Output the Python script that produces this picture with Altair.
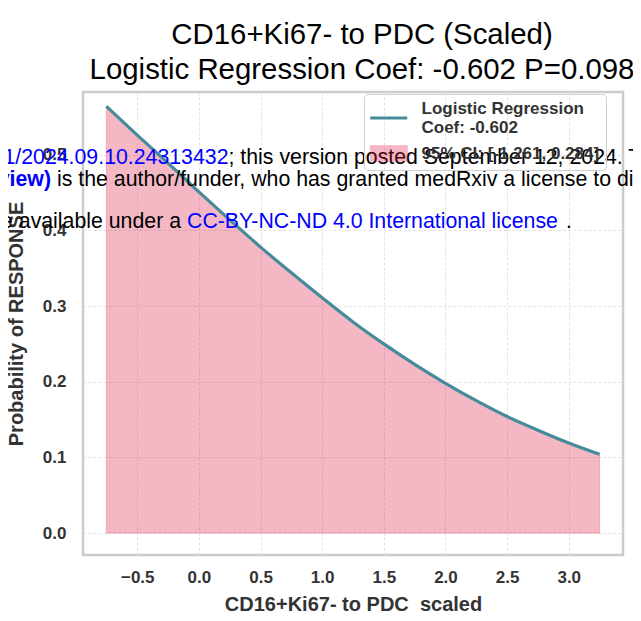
import altair as alt
import pandas as pd

# ---- values ----
x_vals = [-0.75, -0.5, -0.25, 0.0, 0.25, 0.5, 0.75, 1.0, 1.25, 1.5, 1.75,
          2.0, 2.25, 2.5, 2.75, 3.0, 3.25]
p_vals = [0.564, 0.526, 0.489, 0.451, 0.414, 0.378, 0.344, 0.311, 0.279,
          0.250, 0.223, 0.198, 0.175, 0.154, 0.136, 0.119, 0.104]
base_vals = [0.0] * len(x_vals)

x_ticks = [-0.5, 0.0, 0.5, 1.0, 1.5, 2.0, 2.5, 3.0]
y_ticks = [0.0, 0.1, 0.2, 0.3, 0.4, 0.5]

line_name = "Logistic Regression|Coef: -0.602"
ci_name = "95% CI: [-1.261, 0.284]"
series_names = [line_name, ci_name]

title_lines = ["CD16+Ki67- to PDC (Scaled)",
               "Logistic Regression Coef: -0.602 P=0.098"]
x_title = "CD16+Ki67- to PDC\u00a0 scaled"
y_title = "Probability of RESPONSE"

wm_a1 = "https://doi.org/10.1101/2024.09.10.24313432"
wm_a2 = "; this version posted September 12, 2024. The copyright holder for this preprint"
wm_b1 = "(which was not certified by peer review)"
wm_b2 = "is the author/funder, who has granted medRxiv a license to display the preprint in perpetuity."
wm_c1 = "It is made available under a"
wm_c2 = "CC-BY-NC-ND 4.0 International license"
wm_c3 = "."

TEAL = "#468b9b"
CRIMSON = "#dc143c"
FONT = "Liberation Sans"

df = pd.DataFrame({"x": x_vals, "p": p_vals, "base": base_vals})

color_scale = alt.Scale(domain=series_names, range=[TEAL, CRIMSON])

is_ci = f"datum.value === '{ci_name}'"
LINE_PATH = "M-0.446,0.51H1.554"
RECT_PATH = "M-0.446,-0.42H1.554V0.42H-0.446Z"
legend = alt.Legend(
    title=None,
    orient="none",
    legendX=281,
    legendY=2,
    padding=6,
    fillColor="transparent",
    strokeColor="#cfcfcf",
    cornerRadius=4,
    rowPadding=7,
    labelOffset=34.5,
    symbolSize=1369,
    labelLimit=400,
    labelFont=FONT,
    labelFontSize=17,
    labelFontWeight="bold",
    labelColor="#333333",
    labelExpr="split(datum.label, '|')",
    symbolType={"expr": f"{is_ci} ? '{RECT_PATH}' : '{LINE_PATH}'"},
    symbolFillColor={"expr": f"{is_ci} ? '{CRIMSON}' : 'transparent'"},
    symbolStrokeColor={"expr": f"{is_ci} ? '{CRIMSON}' : '{TEAL}'"},
    symbolStrokeWidth={"expr": f"{is_ci} ? 1 : 3"},
    symbolOpacity={"expr": f"{is_ci} ? 0.3 : 1"},
)

X = alt.X("x:Q",
          scale=alt.Scale(domain=[-0.94, 3.44], nice=False, zero=False),
          axis=alt.Axis(values=x_ticks, format=".1f", title=x_title))
Y = alt.Y("p:Q",
          scale=alt.Scale(domain=[-0.029, 0.583], nice=False, zero=False),
          axis=alt.Axis(values=y_ticks, format=".1f", title=y_title))

area = alt.Chart(df).transform_calculate(series=f"'{ci_name}'").mark_area(
    fillOpacity=0.3, stroke=CRIMSON, strokeOpacity=0.22, strokeWidth=1.2,
    interpolate="monotone"
).encode(x=X, y=Y, y2="base:Q",
         color=alt.Color("series:N", scale=color_scale, legend=legend))

line = alt.Chart(df).transform_calculate(series=f"'{line_name}'").mark_line(
    strokeWidth=3.2, interpolate="monotone"
).encode(x=X, y=Y,
         color=alt.Color("series:N", scale=color_scale, legend=legend))


def wm(txt, px, py, color, align, weight="normal"):
    return alt.Chart(pd.DataFrame({"t": [txt]})).mark_text(
        align=align, baseline="alphabetic", font=FONT, fontSize=21.3,
        fontWeight=weight, color=color
    ).encode(text="t:N", x=alt.value(px), y=alt.value(py))


texts = [
    wm(wm_a1, 145.5, 72, "#0000ff", "right"),
    wm(wm_a2, 145.5, 72, "#000000", "left"),
    wm(wm_b1, -32, 94, "#0000ff", "right", "bold"),
    wm(wm_b2, -26, 94, "#000000", "left"),
    wm(wm_c1, 98, 136, "#000000", "right"),
    wm(wm_c2, 104, 136, "#0000ff", "left"),
    wm(wm_c3, 483, 136, "#000000", "left"),
]

chart = alt.layer(area, line, *texts).properties(
    width=540,
    height=463,
    title=alt.TitleParams(text=title_lines, fontSize=29.4, font=FONT,
                          fontWeight="normal", color="black",
                          anchor="middle", frame="group", dx=9, offset=7,
                          lineHeight=35),
    autosize=alt.AutoSizeParams(type="none"),
    padding={"left": 75, "top": 84, "right": 10, "bottom": 58},
).configure_view(
    stroke="#cccccc", strokeWidth=2.5
).configure_axis(
    labelFont=FONT, labelFontSize=17, labelFontWeight="bold",
    labelColor="#333333", ticks=False, domain=False, grid=True,
    gridColor="#e2e2e2", gridDash=[3, 2], gridWidth=1,
    titleFont=FONT, titleFontSize=20, titleFontWeight="bold",
    titleColor="#333333"
).configure_axisX(
    labelPadding=14, titlePadding=9
).configure_axisY(
    labelPadding=17, titlePadding=16
)

chart.save("out.html", embed_options={"renderer": "svg", "actions": False})
